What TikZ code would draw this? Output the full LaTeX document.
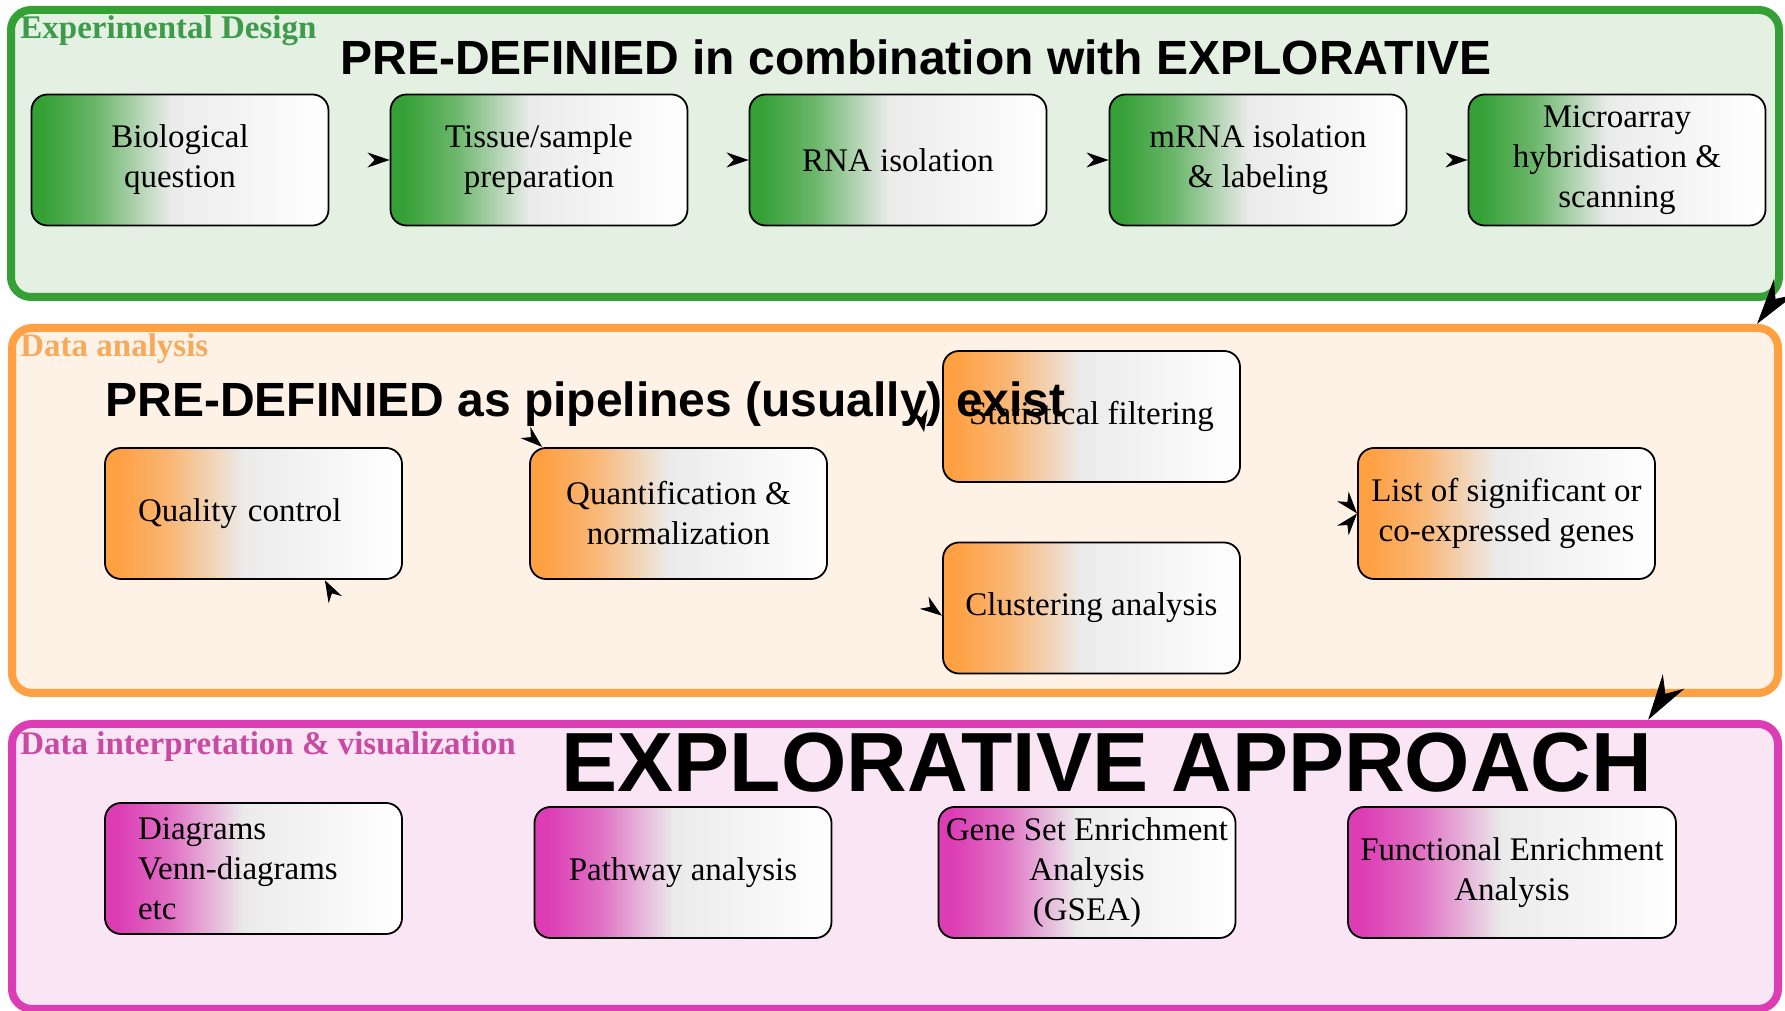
\documentclass[tikz,border=0pt]{standalone}
\usepackage{fontspec}
\setmainfont{Liberation Serif}
\newfontfamily\headfont{Liberation Sans}
\usepackage[dvipsnames]{xcolor}
\usepackage{tikz}
\usetikzlibrary{arrows.meta,decorations.markings}

\definecolor{expgreen}{HTML}{35A035}
\definecolor{expfill}{HTML}{E4F0E2}
\definecolor{explabel}{HTML}{3D9B4B}
\definecolor{anaorange}{HTML}{FFA043}
\definecolor{anafill}{HTML}{FEF1E5}
\definecolor{analabel}{HTML}{F5AA5C}
\definecolor{vispink}{HTML}{DC3CB4}
\definecolor{visfill}{HTML}{FAE5F5}
\definecolor{vislabel}{HTML}{C94AA3}
\definecolor{boxgray}{HTML}{EBEBEB}
\colorlet{expmid}{expgreen!70!boxgray}
\colorlet{anamid}{anaorange!70!boxgray}
\colorlet{vismid}{vispink!70!boxgray}

\pgfdeclarehorizontalshading{expshade}{100bp}{color(0bp)=(expgreen); color(27bp)=(expgreen); color(36bp)=(expmid); color(48.5bp)=(boxgray); color(75bp)=(white); color(100bp)=(white)}
\pgfdeclarehorizontalshading{anashade}{100bp}{color(0bp)=(anaorange); color(27bp)=(anaorange); color(36bp)=(anamid); color(48.5bp)=(boxgray); color(75bp)=(white); color(100bp)=(white)}
\pgfdeclarehorizontalshading{visshade}{100bp}{color(0bp)=(vispink); color(27bp)=(vispink); color(36bp)=(vismid); color(48.5bp)=(boxgray); color(75bp)=(white); color(100bp)=(white)}

\tikzset{
  sectionbox/.style={draw, line width=4pt, rounded corners=10pt, inner sep=0pt},
  sectiontitle/.style={anchor=base west, inner sep=0pt, font=\fontsize{16.5}{20}\selectfont\bfseries},
  headline/.style={anchor=base, inner sep=0pt, font=\headfont\bfseries\fontsize{24}{28}\selectfont},
  stepbox/.style={draw, line width=0.9pt, rounded corners=8pt, minimum width=148.5pt, minimum height=65.5pt, align=center, inner sep=0pt, font=\fontsize{16.5}{20}\selectfont},
  smallhead/.style={decoration={markings, mark=at position 0.999 with {\arrow{Stealth[length=11pt,width=7.5pt]}}}, postaction={decorate}},
  bighead/.style={decoration={markings, mark=at position 0.999 with {\arrow{Stealth[length=23pt,width=13pt]}}}, postaction={decorate}}
}

\begin{document}
\begin{tikzpicture}[x=0.5pt,y=0.5pt]
\useasboundingbox (0,0) rectangle (1785,1011);

\node[sectionbox, draw=expgreen, fill=expfill, minimum width=884pt, minimum height=143.5pt] (exp) at (895,857.5) {};
\node[sectionbox, draw=anaorange, fill=anafill, minimum width=883pt, minimum height=182.5pt] (ana) at (895,500.5) {};
\node[sectionbox, draw=vispink, fill=visfill, minimum width=883pt, minimum height=142.5pt] (vis) at (895,144.5) {};

\node[sectiontitle, text=explabel] (explbl) at (20,972) {Experimental Design};
\node[sectiontitle, text=analabel] (analbl) at (20,654) {Data analysis};
\node[sectiontitle, text=vislabel] (vislbl) at (20,256) {Data interpretation \& visualization};

\node[stepbox, shading=expshade] (bq) at (180,851) {Biological\\question};
\node[stepbox, shading=expshade] (tsp) at (539,851) {Tissue/sample\\preparation};
\node[stepbox, shading=expshade] (rna) at (898,851) {RNA isolation};
\node[stepbox, shading=expshade] (mrna) at (1258,851) {mRNA isolation\\\& labeling};
\node[stepbox, shading=expshade] (mhs) at (1617,851) {Microarray\\hybridisation \&\\scanning};

\node[stepbox, shading=anashade, text width=115.5pt, align=left] (qc) at (253.5,497.5) {Quality control};
\node[stepbox, shading=anashade] (qn) at (678.5,497.5) {Quantification \&\\normalization};
\node[stepbox, shading=anashade] (sf) at (1091.5,594.5) {Statistical filtering};
\node[stepbox, shading=anashade] (ca) at (1091.5,403) {Clustering analysis};
\node[stepbox, shading=anashade] (ls) at (1506.5,497.5) {List of significant or\\co-expressed genes};

\node[stepbox, shading=visshade, text width=115.5pt, align=left] (diag) at (253.5,142.5) {Diagrams\\Venn-diagrams\\etc};
\node[stepbox, shading=visshade] (pwa) at (683,138.5) {Pathway analysis};
\node[stepbox, shading=visshade] (gsea) at (1087,138.5) {Gene Set Enrichment\\Analysis\\(GSEA)};
\node[stepbox, shading=visshade, minimum width=164pt] (fea) at (1512,138.5) {Functional Enrichment\\Analysis};

\node[headline] (expnote) at (916,936) {PRE-DEFINIED in combination with EXPLORATIVE};
\node[headline] (ananote) at (585.5,594) {PRE-DEFINIED as pipelines (usually) exist};
\node[headline, font=\headfont\bfseries\fontsize{42}{48}\selectfont] (visnote) at (1107,219) {EXPLORATIVE APPROACH};

\path[smallhead] (bq) -- (tsp);
\path[smallhead] (tsp) -- (rna);
\path[smallhead] (rna) -- (mrna);
\path[smallhead] (mrna) -- (mhs);

\path[bighead] (exp.south east) to[out=-30,in=54] ([xshift=-12.5pt]ana.north east);
\path[bighead] (ana.south east) to[out=-30,in=57] ([xshift=-67pt]vis.north east);

\path[smallhead] (qc.north) to[out=90,in=139] (qn.154);
\path[smallhead] (qn.south) to[out=-90,in=-62] (qc.-43);
\path[smallhead] (qn.north) to[out=70,in=100] ([xshift=-9pt,yshift=-8pt]sf.west);
\path[smallhead] (qn.east) to[out=0,in=144] (ca.183);
\path[smallhead] (sf.east) to[out=0,in=130] (ls.west);
\path[smallhead] (ca.east) to[out=0,in=230] (ls.west);
\end{tikzpicture}
\end{document}
